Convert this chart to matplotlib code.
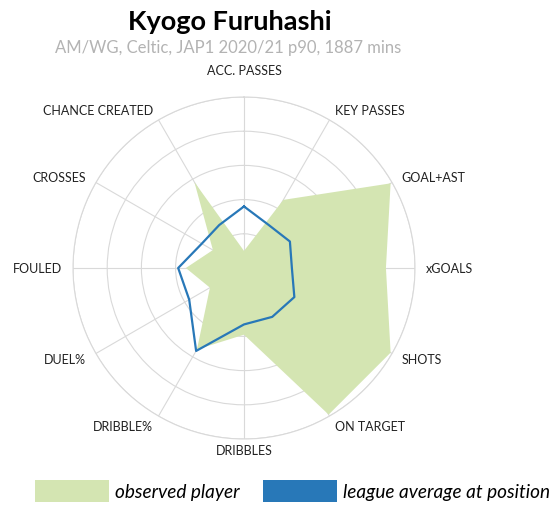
import numpy as np
import matplotlib
matplotlib.use("Agg")
import matplotlib.pyplot as plt
from matplotlib.patches import Patch

plt.rcParams['font.family'] = ['Lato', 'DejaVu Sans']

# clockwise from the top
categories = ['ACC. PASSES', 'KEY PASSES', 'GOAL+AST', 'xGOALS', 'SHOTS', 'ON TARGET',
              'DRIBBLES', 'DRIBBLE%', 'DUEL%', 'FOULED', 'CROSSES', 'CHANCE CREATED']
player = [0.10, 0.46, 0.99, 0.83, 0.99, 0.99, 0.39, 0.55, 0.23, 0.34, 0.21, 0.58]
league_avg = [0.36, 0.29, 0.31, 0.28, 0.34, 0.33, 0.33, 0.56, 0.37, 0.385, 0.285, 0.29]
ring_levels = [0.2, 0.4, 0.6, 0.8, 1.0]

title = 'Kyogo Furuhashi'
subtitle = 'AM/WG, Celtic, JAP1 2020/21 p90, 1887 mins'
legend_labels = ['observed player', 'league average at position']

green = '#d4e5b2'
blue = '#2878b8'
grid_col = '#d9d9d9'

n = len(categories)
angles = np.arange(n) * 2 * np.pi / n

fig = plt.figure(figsize=(5.6, 5.06), dpi=100)
ax = fig.add_axes([73 / 560, 66 / 506, 342 / 560, 342 / 506], projection='polar')
ax.set_theta_zero_location('N')
ax.set_theta_direction(-1)
ax.set_ylim(0, 1)

# closed polygons
ang_c = np.append(angles, angles[0])
pl_c = np.append(player, player[0])
lg_c = np.append(league_avg, league_avg[0])

ax.fill(ang_c, pl_c, color=green, lw=0, zorder=2)
ax.plot(ang_c, lg_c, color=blue, lw=1.6, zorder=3)

# grid
ax.set_rgrids(ring_levels, labels=[])
ax.set_thetagrids(np.degrees(angles), labels=[])
ax.grid(color=grid_col, lw=0.8)
ax.spines['polar'].set_color(grid_col)
ax.spines['polar'].set_linewidth(0.8)
ax.tick_params(length=0)

# axis labels
for a, lab in zip(angles, categories):
    deg = np.degrees(a) % 360
    r = 1.065
    if np.isclose(deg, 0):
        ha, r = 'center', 1.16
    elif np.isclose(deg, 180):
        ha = 'center'
    elif deg < 180:
        ha = 'left'
    else:
        ha = 'right'
    ax.text(a, r, lab, ha=ha, va='center', fontsize=9, color='#222222')

fig.text(230 / 560, 1 - 22 / 506, title, ha='center', va='center',
         fontsize=19.5, fontweight='bold', color='black')
fig.text(228 / 560, 1 - 48 / 506, subtitle, ha='center', va='center',
         fontsize=12, color='#b3b3b3')

handles = [Patch(facecolor=green, edgecolor='none'), Patch(facecolor=blue, edgecolor='none')]
fig.legend(handles, legend_labels,
           loc='center', bbox_to_anchor=(292.5 / 560, 1 - 492 / 506), ncol=2,
           frameon=False, handlelength=3.9, handleheight=1.37,
           handletextpad=0.3, columnspacing=1.2, borderpad=0.1,
           prop={'style': 'italic', 'size': 13.7})

fig.savefig('out.png', dpi=100)
